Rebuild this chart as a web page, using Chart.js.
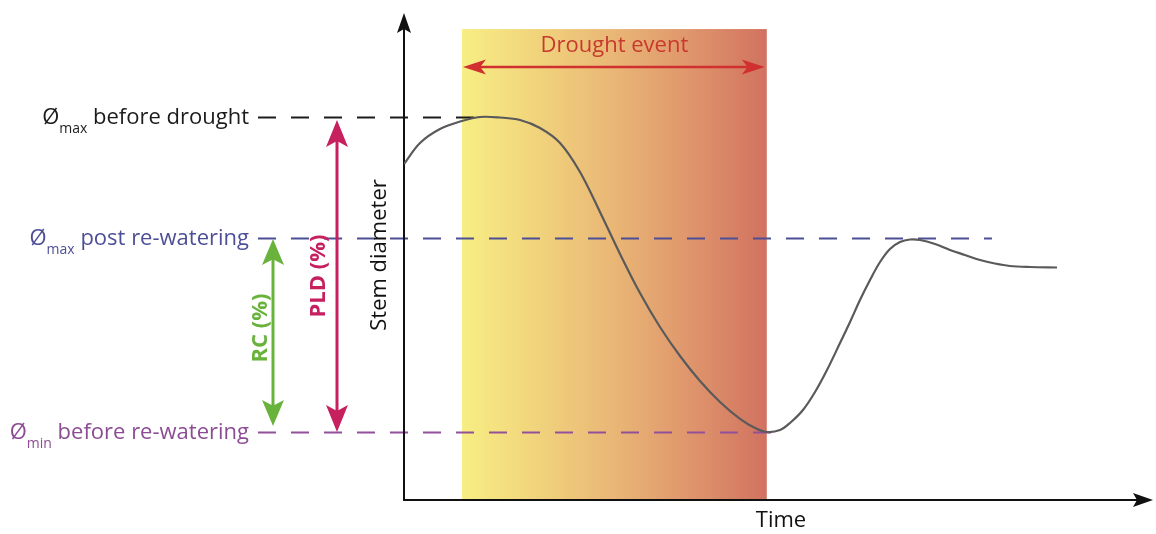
<!DOCTYPE html>
<html>
<head>
<meta charset="utf-8">
<script src="https://cdn.jsdelivr.net/npm/chart.js@4/dist/chart.umd.min.js"></script>
<style>
  html, body { margin: 0; padding: 0; background: #ffffff; }
  #wrap { width: 1156px; height: 534px; position: relative; }
</style>
</head>
<body>
<div id="wrap"><canvas id="chart"></canvas></div>
<script>
// Stem diameter over time (arbitrary units, 0-100 on both axes)
const timePoints = [0, 2.14, 4.81, 7.75, 10.16, 12.83, 15.51, 18.18, 20.86, 23.53, 26.20, 28.88, 31.55, 34.22, 36.90, 39.57, 42.25, 44.92, 46.93, 48.53, 50.27, 51.60, 53.34, 54.95, 56.55, 58.29, 59.63, 60.96, 62.30, 63.64, 64.97, 66.31, 67.65, 68.98, 70.99, 72.99, 74.99, 77.01, 78.98, 80.98, 83.69, 87.30];
const stemDiameter = [69.14, 73.46, 76.34, 77.98, 78.81, 78.70, 78.19, 76.54, 73.46, 67.49, 59.26, 50.62, 42.59, 35.60, 29.63, 24.49, 20.16, 16.67, 14.81, 13.99, 14.40, 15.84, 18.52, 22.22, 26.75, 32.30, 36.63, 41.15, 45.27, 48.97, 51.65, 53.09, 53.60, 53.50, 52.67, 51.44, 50.41, 49.38, 48.66, 48.15, 47.94, 47.84];

// Reference levels drawn as dashed guides
const levelLabels = ['before drought', 'post re-watering', 'before re-watering'];
const levelSubscripts = ['max', 'max', 'min'];
const levelValues = [78.8, 53.9, 14.0];
const levelEnds = [10.6, 78.6, 50.9];
const levelColors = ['#1c1c1c', '#4d4f96', '#93509a'];
const levelTextColors = ['#1c1c1c', '#4d4f96', '#8c4c93'];

// Drought period
const droughtStart = 7.75;
const droughtEnd = 48.5;
const droughtTop = 96.9;
const droughtArrowLevel = 89.1;
const droughtLabel = 'Drought event';

// Axis titles and range annotations
const xTitle = 'Time';
const yTitle = 'Stem diameter';
const pldLabel = 'PLD (%)';
const rcLabel = 'RC (%)';

const FONT = '"Open Sans", "Noto Sans", sans-serif';

function arrowHead(ctx, tipX, tipY, dirX, dirY, len, half, notch, color) {
  const px = -dirY, py = dirX;
  const bx = tipX - dirX * len, by = tipY - dirY * len;
  const nx = tipX - dirX * len * (1 - notch), ny = tipY - dirY * len * (1 - notch);
  ctx.save();
  ctx.fillStyle = color;
  ctx.beginPath();
  ctx.moveTo(tipX, tipY);
  ctx.lineTo(bx + px * half, by + py * half);
  ctx.lineTo(nx, ny);
  ctx.lineTo(bx - px * half, by - py * half);
  ctx.closePath();
  ctx.fill();
  ctx.restore();
}

function doubleArrowV(ctx, x, yTop, yBot, color, width, len, half) {
  ctx.save();
  ctx.strokeStyle = color;
  ctx.lineWidth = width;
  ctx.beginPath();
  ctx.moveTo(x, yTop + len * 0.6);
  ctx.lineTo(x, yBot - len * 0.6);
  ctx.stroke();
  ctx.restore();
  arrowHead(ctx, x, yTop, 0, -1, len, half, 0.22, color);
  arrowHead(ctx, x, yBot, 0, 1, len, half, 0.22, color);
}

function rotatedText(ctx, text, x, y, font, color) {
  ctx.save();
  ctx.translate(x, y);
  ctx.rotate(-Math.PI / 2);
  ctx.font = font;
  ctx.fillStyle = color;
  ctx.textAlign = 'center';
  ctx.textBaseline = 'middle';
  ctx.fillText(text, 0, 0);
  ctx.restore();
}

const diagramPlugin = {
  id: 'diagram',
  beforeDatasetsDraw(chart) {
    const { ctx, scales: { x, y }, chartArea } = chart;
    const x0 = x.getPixelForValue(droughtStart);
    const x1 = x.getPixelForValue(droughtEnd);
    const yTop = y.getPixelForValue(droughtTop);
    const yBot = y.getPixelForValue(0);

    // Drought shading
    const grad = ctx.createLinearGradient(x0, 0, x1, 0);
    grad.addColorStop(0, '#f7ee84');
    grad.addColorStop(0.25, '#f1d37c');
    grad.addColorStop(0.5, '#e9b676');
    grad.addColorStop(0.75, '#df956c');
    grad.addColorStop(1, '#d17260');
    ctx.save();
    ctx.fillStyle = grad;
    ctx.fillRect(x0, yTop, x1 - x0, yBot - yTop);
    ctx.restore();

    // Dashed reference levels
    const labelRight = 249;
    const dashStart = 258;
    levelValues.forEach((v, i) => {
      const py = Math.round(y.getPixelForValue(v)) + 0.5;
      ctx.save();
      ctx.strokeStyle = levelColors[i];
      ctx.lineWidth = 2;
      ctx.setLineDash([18, 15]);
      ctx.beginPath();
      ctx.moveTo(dashStart, py);
      ctx.lineTo(x.getPixelForValue(levelEnds[i]), py);
      ctx.stroke();
      ctx.restore();

      // Label: Ø + subscript + text, right-aligned
      const mainFont = '22px ' + FONT;
      const subFont = '14px ' + FONT;
      const main = ' ' + levelLabels[i];
      ctx.save();
      ctx.font = mainFont;
      const wO = ctx.measureText('Ø').width;
      const wMain = ctx.measureText(main).width;
      ctx.font = subFont;
      const wSub = ctx.measureText(levelSubscripts[i]).width;
      let cx = labelRight - (wO + wSub + wMain);
      const base = py + 6;
      ctx.fillStyle = levelTextColors[i];
      ctx.textBaseline = 'alphabetic';
      ctx.textAlign = 'left';
      ctx.font = mainFont;
      ctx.fillText('Ø', cx, base);
      cx += wO;
      ctx.font = subFont;
      ctx.fillText(levelSubscripts[i], cx, base + 9);
      cx += wSub;
      ctx.font = mainFont;
      ctx.fillText(main, cx, base);
      ctx.restore();
    });

    // Axes with arrowheads
    const ax = chartArea.left;
    const ay = y.getPixelForValue(0);
    ctx.save();
    ctx.strokeStyle = '#111111';
    ctx.lineWidth = 2;
    ctx.beginPath();
    ctx.moveTo(ax, ay);
    ctx.lineTo(ax, chartArea.top + 12);
    ctx.moveTo(ax - 1, ay);
    ctx.lineTo(chartArea.right - 12, ay);
    ctx.stroke();
    ctx.restore();
    arrowHead(ctx, ax, chartArea.top - 1, 0, -1, 20, 7, 0.2, '#111111');
    arrowHead(ctx, chartArea.right + 1, ay, 1, 0, 20, 7, 0.2, '#111111');
  },
  afterDatasetsDraw(chart) {
    const { ctx, scales: { x, y } } = chart;

    // Drought event arrow and label
    const x0 = x.getPixelForValue(droughtStart);
    const x1 = x.getPixelForValue(droughtEnd);
    const ya = y.getPixelForValue(droughtArrowLevel);
    ctx.save();
    ctx.strokeStyle = '#d0302f';
    ctx.lineWidth = 2.5;
    ctx.beginPath();
    ctx.moveTo(x0 + 12, ya);
    ctx.lineTo(x1 - 12, ya);
    ctx.stroke();
    ctx.restore();
    arrowHead(ctx, x0 + 1, ya, -1, 0, 23, 7.5, 0.25, '#d0302f');
    arrowHead(ctx, x1 - 2, ya, 1, 0, 23, 7.5, 0.25, '#d0302f');
    ctx.save();
    ctx.font = '22px ' + FONT;
    ctx.fillStyle = '#c8392e';
    ctx.textAlign = 'center';
    ctx.textBaseline = 'middle';
    ctx.fillText(droughtLabel, (x0 + x1) / 2, ya - 21);
    ctx.restore();

    // PLD and RC range arrows
    const yMaxB = y.getPixelForValue(levelValues[0]);
    const yPost = y.getPixelForValue(levelValues[1]);
    const yMin = y.getPixelForValue(levelValues[2]);
    doubleArrowV(ctx, 337, yMaxB + 3, yMin, '#c6205f', 3, 27, 11);
    doubleArrowV(ctx, 273, yPost + 1, yMin - 6, '#69b33c', 3, 26, 11);
    rotatedText(ctx, pldLabel, 319, 276, 'bold 22px ' + FONT, '#c6205f');
    rotatedText(ctx, rcLabel, 261, 328, 'bold 22px ' + FONT, '#69b33c');

    // Axis titles
    rotatedText(ctx, yTitle, 380, 255, '22px ' + FONT, '#111111');
    ctx.save();
    ctx.font = '22px ' + FONT;
    ctx.fillStyle = '#111111';
    ctx.textAlign = 'center';
    ctx.textBaseline = 'middle';
    ctx.fillText(xTitle, 781, 521);
    ctx.restore();
  }
};

new Chart(document.getElementById('chart'), {
  type: 'line',
  data: {
    datasets: [{
      label: yTitle,
      data: timePoints.map((t, i) => ({ x: t, y: stemDiameter[i] })),
      borderColor: '#5a5a5a',
      borderWidth: 2.2,
      pointRadius: 0,
      fill: false,
      tension: 0.35
    }]
  },
  options: {
    responsive: true,
    maintainAspectRatio: false,
    animation: false,
    layout: { padding: { left: 404, right: 4, top: 14, bottom: 34 } },
    scales: {
      x: { type: 'linear', min: 0, max: 100, display: false },
      y: { min: 0, max: 100, display: false }
    },
    plugins: {
      legend: { display: false },
      tooltip: { enabled: false }
    }
  },
  plugins: [diagramPlugin]
});
</script>
</body>
</html>
